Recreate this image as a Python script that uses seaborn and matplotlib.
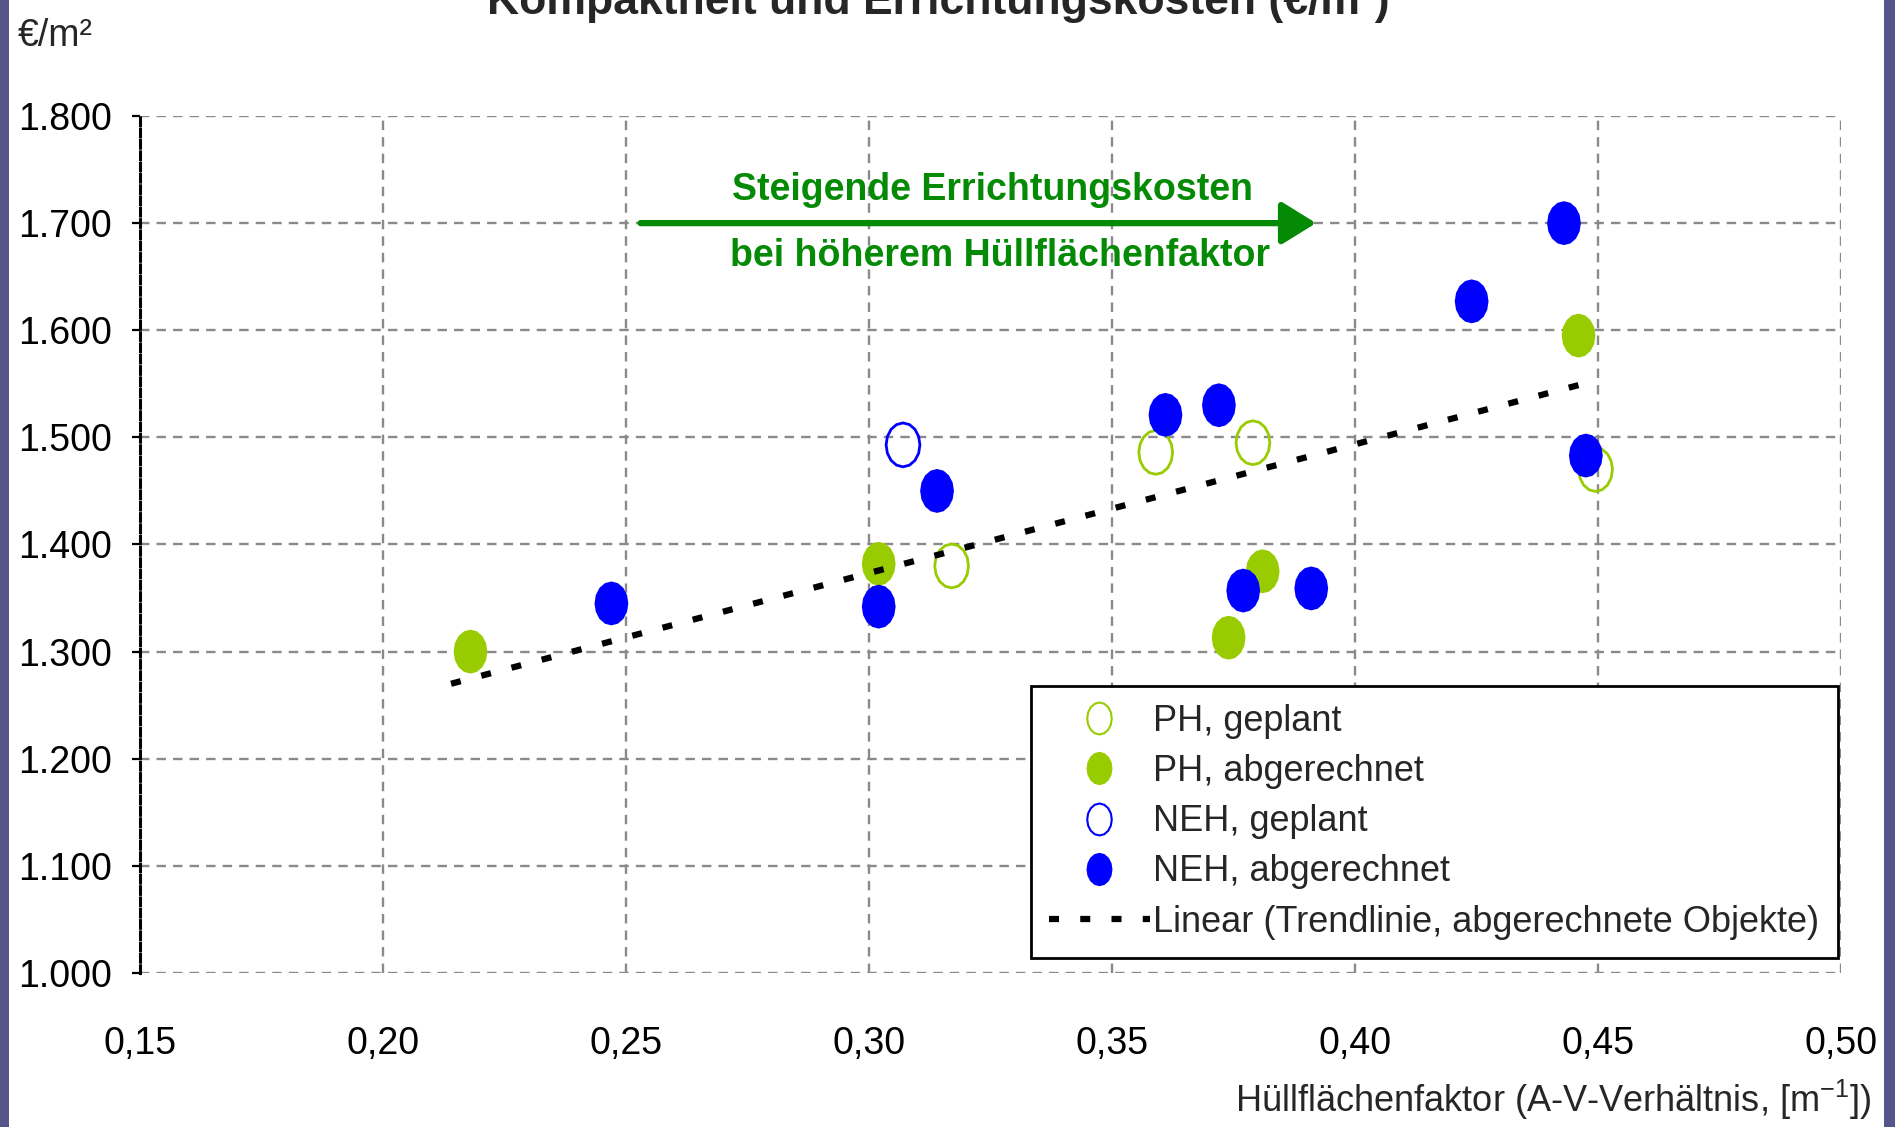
import numpy as np
import pandas as pd
import matplotlib
matplotlib.use("Agg")
import matplotlib.pyplot as plt
import seaborn as sns
from matplotlib.path import Path
from matplotlib.lines import Line2D
from matplotlib.ticker import FuncFormatter, MultipleLocator
from matplotlib.patches import Rectangle

# ---------------- data ----------------
ph_geplant_x = [0.317, 0.359, 0.379, 0.4495]
ph_geplant_y = [1380, 1486, 1495, 1470]

ph_abger_x = [0.218, 0.302, 0.374, 0.381, 0.446]
ph_abger_y = [1300, 1382, 1313, 1375, 1595]

neh_geplant_x = [0.307]
neh_geplant_y = [1493]

neh_abger_x = [0.247, 0.302, 0.314, 0.361, 0.372, 0.377, 0.391, 0.424, 0.443, 0.4475]
neh_abger_y = [1345, 1342, 1450, 1521, 1530, 1357, 1359, 1627, 1700, 1483]

trend_x = [0.214, 0.447]
trend_y = [1270, 1550]

series_labels = ["PH, geplant", "PH, abgerechnet", "NEH, geplant", "NEH, abgerechnet",
                 "Linear (Trendlinie, abgerechnete Objekte)"]
title_text = "Kompaktheit und Errichtungskosten (€/m²)"
ylabel_text = "€/m²"
xlabel_text = r"Hüllflächenfaktor (A-V-Verhältnis, [m$^{\mathregular{-1}}$])"
note_line1 = "Steigende Errichtungskosten"
note_line2 = "bei höherem Hüllflächenfaktor"
arrow_x = [0.253, 0.392]
arrow_y = 1700

GREEN = "#99cc00"
BLUE = "#0000ff"
DARKGREEN = "#058a05"

sns.set_theme(style="white")
plt.rcParams["font.family"] = ["Liberation Sans", "DejaVu Sans"]
plt.rcParams["mathtext.default"] = "regular"

fig = plt.figure(figsize=(18.95, 11.27), dpi=100)
fig.patch.set_facecolor("white")
ax = fig.add_axes([140 / 1895, 1 - 973 / 1127, (1841 - 140) / 1895, (973 - 116) / 1127])

# purple slide edges
fig.patches.append(Rectangle((0, 0), 9 / 1895, 1, transform=fig.transFigure,
                             facecolor="#55558a", edgecolor="none", zorder=0))
fig.patches.append(Rectangle((1 - 11 / 1895, 0), 11 / 1895, 1, transform=fig.transFigure,
                             facecolor="#55558a", edgecolor="none", zorder=0))

# elongated octagon-like marker
t = np.linspace(0, 2 * np.pi, 17)
verts = np.column_stack([0.385 * np.cos(t), 0.5 * np.sin(t)])
ell = Path(verts, closed=True)

S = 1000
sns.scatterplot(x=ph_geplant_x, y=ph_geplant_y, ax=ax, marker=ell, s=S,
                color=GREEN, facecolor="none", edgecolor=GREEN, linewidth=2, zorder=3)
sns.scatterplot(x=ph_abger_x, y=ph_abger_y, ax=ax, marker=ell, s=S,
                color=GREEN, edgecolor="none", linewidth=0, zorder=3)
sns.scatterplot(x=neh_geplant_x, y=neh_geplant_y, ax=ax, marker=ell, s=S,
                color=BLUE, facecolor="none", edgecolor=BLUE, linewidth=2, zorder=3)
sns.scatterplot(x=neh_abger_x, y=neh_abger_y, ax=ax, marker=ell, s=S,
                color=BLUE, edgecolor="none", linewidth=0, zorder=3)
sns.lineplot(x=trend_x, y=trend_y, ax=ax, color="black", lw=4.5,
             linestyle=(0, (1.6, 3.4)), zorder=4)

ax.set_xlim(0.15, 0.50)
ax.set_ylim(1000, 1800)
ax.xaxis.set_major_locator(MultipleLocator(0.05))
ax.yaxis.set_major_locator(MultipleLocator(100))
ax.xaxis.set_major_formatter(FuncFormatter(lambda v, p: f"{v:.2f}".replace(".", ",")))
ax.yaxis.set_major_formatter(FuncFormatter(lambda v, p: f"{int(round(v)):,}".replace(",", ".")))

ax.grid(True, color="#8a8a8a", linestyle=(0, (4, 3)), linewidth=1.7)
for s in ["top", "right", "bottom"]:
    ax.spines[s].set_visible(False)
ax.spines["left"].set_color("black")
ax.spines["left"].set_linestyle((0, (2.5, 1.2)))
ax.spines["left"].set_linewidth(2.2)
ax.spines["left"].set_zorder(2.5)

ax.tick_params(axis="y", which="major", direction="out", length=6, width=1.6,
               color="black", pad=14, labelsize=27, labelcolor="black", left=True)
ax.tick_params(axis="x", which="major", length=0, pad=38, labelsize=27, labelcolor="black")
ax.set_xlabel("")
ax.set_ylabel("")

# annotation arrow & text
ax.annotate("", xy=(arrow_x[1], arrow_y), xytext=(arrow_x[0], arrow_y),
            arrowprops=dict(arrowstyle="-|>,head_length=1.05,head_width=0.65",
                            color=DARKGREEN, lw=4.5, mutation_scale=20,
                            shrinkA=0, shrinkB=0), zorder=5)
ax.text(0.3254, 1731, note_line1, color=DARKGREEN, fontsize=27, fontweight="bold",
        ha="center", va="center", zorder=5)
ax.text(0.3269, 1669, note_line2, color=DARKGREEN, fontsize=27, fontweight="bold",
        ha="center", va="center", zorder=5)

# legend
hs = [
    Line2D([], [], linestyle="none", marker=ell, markersize=23, markerfacecolor="none",
           markeredgecolor=GREEN, markeredgewidth=1.5),
    Line2D([], [], linestyle="none", marker=ell, markersize=23, markerfacecolor=GREEN,
           markeredgecolor=GREEN),
    Line2D([], [], linestyle="none", marker=ell, markersize=23, markerfacecolor="none",
           markeredgecolor=BLUE, markeredgewidth=1.5),
    Line2D([], [], linestyle="none", marker=ell, markersize=23, markerfacecolor=BLUE,
           markeredgecolor=BLUE),
    Line2D([], [], color="black", lw=4.5, linestyle=(0, (1.6, 3.4))),
]
leg = ax.legend(hs, series_labels, loc="upper right", bbox_to_anchor=(0.998, 0.335),
                fontsize=26, frameon=True, fancybox=False, framealpha=1,
                edgecolor="black", borderpad=0.5, labelspacing=0.42,
                handlelength=2.8, handletextpad=0.1, borderaxespad=0)
leg.get_frame().set_linewidth(2)
leg.set_zorder(6)

# figure texts
fig.text(18 / 1895, 1 - 36 / 1127, ylabel_text, fontsize=27, ha="left", va="center")
fig.text(938 / 1895, 1 - 14 / 1127, title_text, fontsize=32, fontweight="bold",
         ha="center", va="baseline")
fig.text(1871 / 1895, 1 - 1100 / 1127, xlabel_text, fontsize=26, ha="right", va="center")

fig.savefig("out.png", dpi=100)
